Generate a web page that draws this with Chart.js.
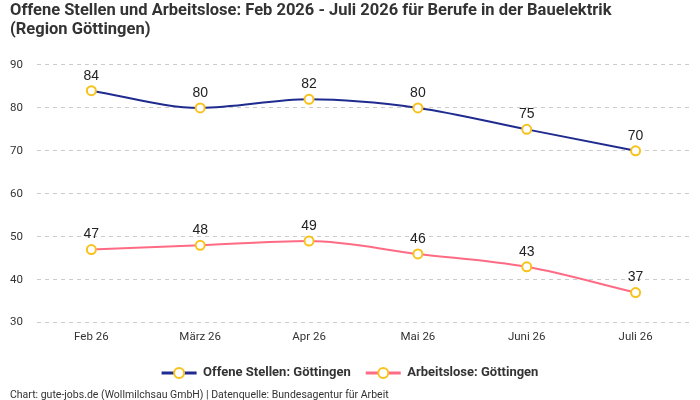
<!DOCTYPE html>
<html>
<head>
<meta charset="utf-8">
<script src="https://cdn.jsdelivr.net/npm/chart.js@4"></script>
<style>
  html, body { margin: 0; padding: 0; background: #fff; }
  #wrap { width: 700px; height: 400px; }
</style>
</head>
<body>
<div id="wrap"><canvas id="myChart"></canvas></div>
<script>
var months = ['Feb 26', 'März 26', 'Apr 26', 'Mai 26', 'Juni 26', 'Juli 26'];
var offeneStellen = [84, 80, 82, 80, 75, 70];
var arbeitslose = [47, 48, 49, 46, 43, 37];
var yTicks = [30, 40, 50, 60, 70, 80, 90];

var narrow = '"Liberation Sans Narrow", "Roboto", sans-serif';
var yellow = '#f8c21c';

// empty spacer so the legend keeps room for the marker
var spacer = document.createElement('canvas');
spacer.width = 35; spacer.height = 14;

// values above the points + legend markers (line with hollow circle)
var extras = {
  id: 'extras',
  afterDatasetsDraw: function(chart) {
    var ctx = chart.ctx;
    ctx.save();
    ctx.font = '14px "Liberation Sans", Arial, sans-serif';
    ctx.fillStyle = '#222';
    ctx.textAlign = 'center';
    ctx.textBaseline = 'bottom';
    chart.data.datasets.forEach(function(ds, i) {
      chart.getDatasetMeta(i).data.forEach(function(pt, j) {
        ctx.fillText(ds.data[j], pt.x, pt.y - 8);
      });
    });
    ctx.restore();
  },
  afterDraw: function(chart) {
    var lg = chart.legend;
    if (!lg || !lg.legendHitBoxes) return;
    var ctx = chart.ctx;
    ctx.save();
    ctx.setLineDash([]);
    lg.legendHitBoxes.forEach(function(box, i) {
      var ds = chart.data.datasets[i];
      var cy = Math.round(box.top + box.height / 2);
      var x0 = box.left;
      ctx.fillStyle = ds.borderColor;
      ctx.fillRect(x0, cy - 1.5, 35, 3);
      ctx.beginPath(); ctx.arc(x0 + 17.5, cy, 5, 0, Math.PI * 2);
      ctx.fillStyle = '#fff'; ctx.fill();
      ctx.strokeStyle = yellow; ctx.lineWidth = 2; ctx.stroke();
    });
    ctx.restore();
  }
};

var ctx = document.getElementById('myChart').getContext('2d');
var myLineChart = new Chart(ctx, {
  type: 'line',
  data: {
    labels: months,
    datasets: [{
      label: 'Offene Stellen: Göttingen',
      data: offeneStellen,
      borderColor: '#1f2b8f',
      pointBorderColor: yellow,
      pointBackgroundColor: '#fff'
    }, {
      label: 'Arbeitslose: Göttingen',
      data: arbeitslose,
      borderColor: '#ff6b84',
      pointBorderColor: yellow,
      pointBackgroundColor: '#fff'
    }]
  },
  options: {
    responsive: true,
    maintainAspectRatio: false,
    animation: false,
    layout: { padding: { left: 10, right: 10, top: 0, bottom: -2 } },
    elements: {
      line: { borderWidth: 2, cubicInterpolationMode: 'monotone' },
      point: { radius: 4.5, borderWidth: 2 }
    },
    plugins: {
      title: {
        display: true,
        text: ['Offene Stellen und Arbeitslose: Feb 2026 - Juli 2026 für Berufe in der Bauelektrik', '(Region Göttingen)'],
        align: 'start',
        color: '#333',
        font: { family: narrow, size: 16.5, weight: 'bold', lineHeight: 1.15 },
        padding: { top: 1, bottom: 26 }
      },
      subtitle: {
        display: true,
        position: 'bottom',
        text: 'Chart: gute-jobs.de (Wollmilchsau GmbH) | Datenquelle: Bundesagentur für Arbeit',
        align: 'start',
        color: '#333',
        font: { family: narrow, size: 10.5 },
        padding: { top: 0, bottom: 0 }
      },
      legend: {
        position: 'bottom',
        labels: {
          usePointStyle: true,
          pointStyleWidth: 35,
          color: '#333',
          font: { family: narrow, size: 13, weight: 'bold' },
          padding: 15,
          generateLabels: function(chart) {
            return chart.data.datasets.map(function(ds, i) {
              return { text: ds.label, pointStyle: spacer, datasetIndex: i, fontColor: '#333' };
            });
          }
        }
      },
      tooltip: { enabled: false }
    },
    scales: {
      x: {
        offset: true,
        grid: { display: false },
        border: { display: false },
        ticks: { color: '#333', font: { family: narrow, size: 11.5 }, padding: 0 },
        afterFit: function(axis) { axis.height += 7; }
      },
      y: {
        min: yTicks[0],
        max: yTicks[yTicks.length - 1],
        afterBuildTicks: function(axis) {
          axis.ticks = yTicks.map(function(v) { return { value: v }; });
        },
        border: { display: false, dash: [4, 4] },
        grid: { color: '#cccccc', drawTicks: false },
        ticks: { color: '#333', font: { family: narrow, size: 11.5 }, padding: 7, crossAlign: 'far' }
      }
    }
  },
  plugins: [extras]
});
</script>
</body>
</html>
